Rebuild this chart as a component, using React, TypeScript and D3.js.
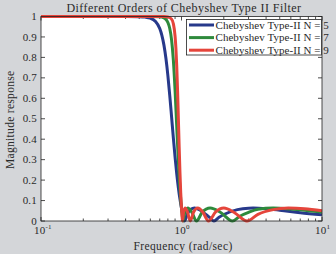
import React from "react";
import * as d3 from "d3";

const W = 336;
const H = 254;

const title = "Different Orders of Chebyshev Type II Filter";
const xLabel = "Frequency (rad/sec)";
const yLabel = "Magnitude response";
const yTicks = [0, 0.1, 0.2, 0.3, 0.4, 0.5, 0.6, 0.7, 0.8, 0.9, 1];
const xMajor = [0.1, 1, 10];
const xMajorExp = ["-1", "0", "1"];

const seriesNames = ["Chebyshev Type-II N = 5", "Chebyshev Type-II N = 7", "Chebyshev Type-II N = 9"];
const seriesColors = ["#27398b", "#2e8a3c", "#e5453b"];

const freq5 = [0.1, 0.4, 0.5, 0.55, 0.6, 0.65, 0.7, 0.725, 0.75, 0.775, 0.8, 0.825, 0.85, 0.875, 0.9, 0.925, 0.95, 0.975, 1,
  1.02, 1.0515, 1.1, 1.15, 1.2, 1.236, 1.35, 1.5, 1.6, 1.7013, 1.85, 2, 2.5, 3, 3.236, 4, 5, 7, 10];
const mag5 = [1, 1, 0.999, 0.9971, 0.9916, 0.9771, 0.941, 0.9079, 0.86, 0.7944, 0.711, 0.6134, 0.5094, 0.4069, 0.3128, 0.2311, 0.1628, 0.1073, 0.063,
  0.0345, 0, 0.0345, 0.0534, 0.0616, 0.063, 0.0542, 0.0304, 0.0147, 0, 0.0179, 0.0316, 0.0558, 0.0626, 0.063, 0.06, 0.0531, 0.0408, 0.03];

const freq7 = [0.1, 0.6, 0.7, 0.75, 0.775, 0.8, 0.825, 0.85, 0.875, 0.9, 0.925, 0.95, 0.9625, 0.975, 1,
  1.01, 1.0257, 1.05, 1.11, 1.18, 1.279, 1.4, 1.6, 1.9, 2.305, 2.6, 3, 3.5, 4.494, 6, 8, 10];
const mag7 = [1, 0.9999, 0.9982, 0.9928, 0.9854, 0.9707, 0.9414, 0.8855, 0.7871, 0.6393, 0.462, 0.2927, 0.2203, 0.1581, 0.063,
  0.0349, 0, 0.0355, 0.063, 0.0446, 0, 0.0411, 0.063, 0.0418, 0, 0.0235, 0.0423, 0.057, 0.063, 0.0586, 0.0506, 0.0437];

const freq9 = [0.1, 0.7, 0.75, 0.8, 0.85, 0.875, 0.9, 0.9125, 0.925, 0.9375, 0.95, 0.9625, 0.975, 0.9875, 1,
  1.005, 1.0154, 1.035, 1.0642, 1.1, 1.1547, 1.22, 1.3054, 1.42, 1.5557, 1.75, 2, 2.4, 2.9238, 3.5, 4.5, 5.76, 7.5, 10];
const mag9 = [1, 1, 0.9997, 0.9981, 0.987, 0.9649, 0.904, 0.8445, 0.7563, 0.6387, 0.5013, 0.3623, 0.2383, 0.138, 0.063,
  0.0393, 0, 0.0443, 0.063, 0.0466, 0, 0.0438, 0.063, 0.0431, 0, 0.0441, 0.063, 0.0392, 0, 0.0326, 0.0555, 0.063, 0.0599, 0.0497];

const seriesFreq = [freq5, freq7, freq9];
const seriesMag = [mag5, mag7, mag9];

const L = 41, R = 322, T = 16.5, B = 221;
const FONT = "'Liberation Serif', 'DejaVu Serif', serif";

export default function App() {
  const x = d3.scaleLog().domain([0.1, 10]).range([L, R]);
  const y = d3.scaleLinear().domain([0, 1]).range([B, T]);
  const line = d3.line<[number, number]>()
    .x((d) => x(d[0]))
    .y((d) => y(d[1]))
    .curve(d3.curveMonotoneX);

  const minor: number[] = [];
  [0.1, 1].forEach((dec) => {
    for (let k = 2; k <= 9; k++) minor.push(dec * k);
  });

  const axisColor = "#222";
  const txt = "#2a2a2a";
  const legendX = 186.5, legendY = 19.5, legendW = 135, legendH = 35.5;

  return (
    <svg width={W} height={H} style={{ position: "fixed", left: 0, top: 0, display: "block" }} fontFamily={FONT}>
      <rect x={0} y={0} width={W} height={H} fill="#d4d6d9" />
      <rect x={L} y={T} width={R - L} height={B - T} fill="#ffffff" />
      {yTicks.map((t) => (
        <g key={"y" + t}>
          <line x1={L} x2={L + 4} y1={y(t)} y2={y(t)} stroke={axisColor} strokeWidth={0.8} />
          <line x1={R} x2={R - 4} y1={y(t)} y2={y(t)} stroke={axisColor} strokeWidth={0.8} />
          <text x={37} y={y(t) + 3.6} fontSize={11} textAnchor="end" fill={txt} letterSpacing={0.2}>{String(t)}</text>
        </g>
      ))}
      {xMajor.map((t, i) => (
        <g key={"x" + t}>
          <line x1={x(t)} x2={x(t)} y1={B} y2={B - 4} stroke={axisColor} strokeWidth={0.8} />
          <line x1={x(t)} x2={x(t)} y1={T} y2={T + 4} stroke={axisColor} strokeWidth={0.8} />
          <text x={x(t) - 7} y={233.5} fontSize={11} fill={txt} letterSpacing={0.2}>
            10<tspan dy={-5} fontSize={7}>{xMajorExp[i]}</tspan>
          </text>
        </g>
      ))}
      {minor.map((t) => (
        <g key={"m" + t}>
          <line x1={x(t)} x2={x(t)} y1={B} y2={B - 2.5} stroke={axisColor} strokeWidth={0.8} />
          <line x1={x(t)} x2={x(t)} y1={T} y2={T + 2.5} stroke={axisColor} strokeWidth={0.8} />
        </g>
      ))}
      {seriesFreq.map((f, si) => (
        <path
          key={"s" + si}
          d={line(f.map((v, j) => [v, seriesMag[si][j]] as [number, number])) || ""}
          fill="none"
          stroke={seriesColors[si]}
          strokeWidth={3}
          strokeLinejoin="round"
        />
      ))}
      <rect x={L} y={T} width={R - L} height={B - T} fill="none" stroke={axisColor} strokeWidth={0.8} />
      <rect x={legendX} y={legendY} width={legendW} height={legendH} fill="#ffffff" stroke={axisColor} strokeWidth={0.8} />
      {seriesNames.map((n, i) => (
        <g key={"l" + i}>
          <line x1={189} x2={214} y1={25 + i * 12.6} y2={25 + i * 12.6} stroke={seriesColors[i]} strokeWidth={3} />
          <text x={215.5} y={28.8 + i * 12.6} fontSize={11} fill={txt} letterSpacing={0.05}>{n}</text>
        </g>
      ))}
      <text x={184} y={12} fontSize={12} textAnchor="middle" fill={txt} letterSpacing={0.45}>{title}</text>
      <text x={183} y={249.5} fontSize={11.5} textAnchor="middle" fill={txt} letterSpacing={0.4}>{xLabel}</text>
      <text transform={`translate(13.5, ${(T + B) / 2 + 1}) rotate(-90)`} fontSize={11.5} textAnchor="middle" fill={txt} letterSpacing={0.3}>{yLabel}</text>
    </svg>
  );
}
